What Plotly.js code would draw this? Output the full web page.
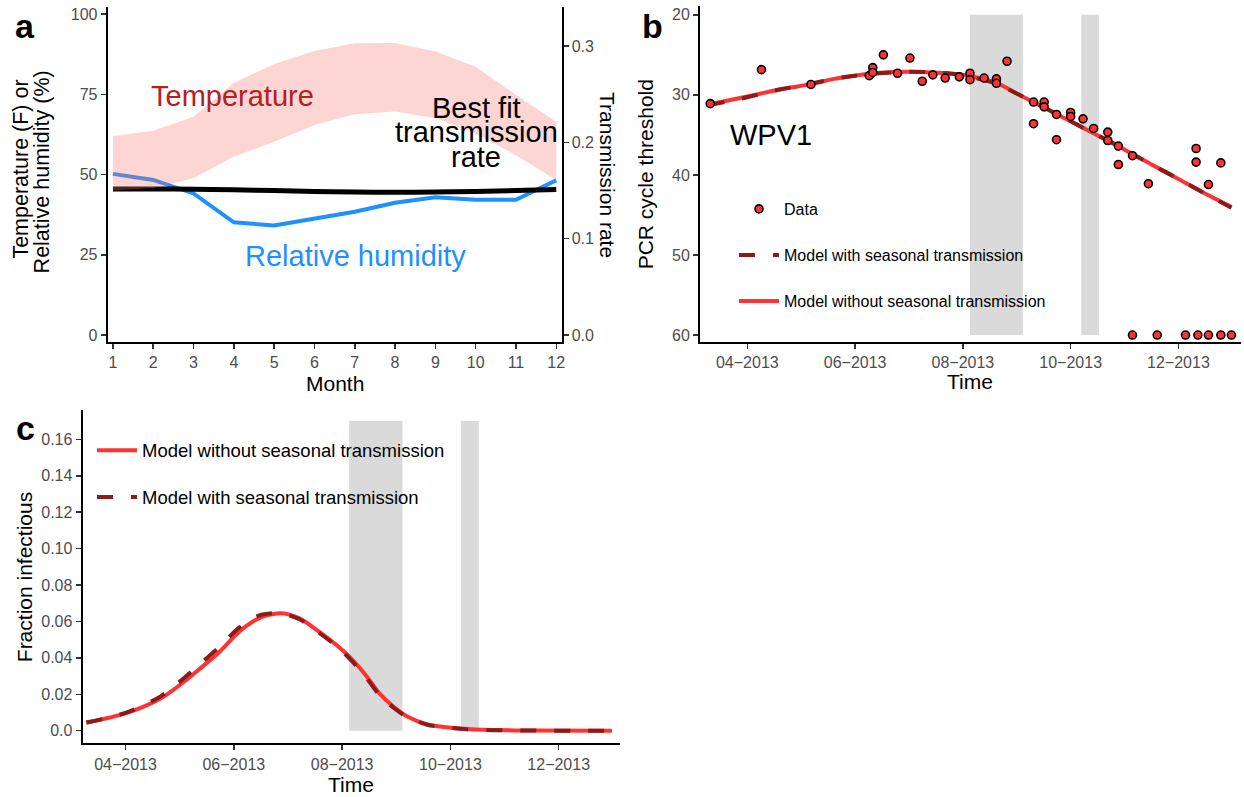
<!DOCTYPE html>
<html>
<head>
<meta charset="utf-8">
<script src="https://cdn.plot.ly/plotly-3.0.1.min.js"></script>
<style>html,body{margin:0;padding:0;background:#fff;}#chart{width:1244px;height:797px;}</style>
</head>
<body>
<div id="chart"></div>
<script>
// ---------- Panel a data ----------
const months = [1,2,3,4,5,6,7,8,9,10,11,12];
const tempUpper = [62, 63.6, 68, 78.6, 84.4, 88.5, 90.9, 91, 88.3, 83.6, 74.8, 66.4];
const tempLower = [45, 45.8, 48.8, 55.6, 60.2, 65.4, 68.8, 69.6, 67.5, 62.8, 56, 48.3];
const humidity = [50.2, 48.3, 44.1, 35.1, 34.1, 36.3, 38.4, 41.2, 42.9, 42.1, 42.1, 48.2];
const transmissionRate = [0.1515, 0.1516, 0.1514, 0.1508, 0.1500, 0.1491, 0.1484, 0.1482, 0.1484, 0.1491, 0.1500, 0.1510];
const leftTicks = [0, 25, 50, 75, 100];
const rightTicks = [0, 0.1, 0.2, 0.3];
const rightTickLabels = ['0.0', '0.1', '0.2', '0.3'];

// ---------- Panel b data ----------
const dataDates = ['2013-03-11','2013-04-09','2013-05-07','2013-06-09','2013-06-11','2013-06-11','2013-06-17','2013-06-25','2013-07-02','2013-07-09','2013-07-15','2013-07-22','2013-07-30','2013-08-05','2013-08-05','2013-08-13','2013-08-20','2013-08-20','2013-08-26','2013-09-10','2013-09-10','2013-09-16','2013-09-16','2013-09-23','2013-09-23','2013-10-01','2013-10-01','2013-10-08','2013-10-14','2013-10-22','2013-10-22','2013-10-28','2013-10-28','2013-11-05','2013-11-05','2013-11-14','2013-11-19','2013-12-05','2013-12-11','2013-12-11','2013-12-12','2013-12-18','2013-12-18','2013-12-25','2013-12-25','2013-12-31'];
const dataCt = [31.1,26.85,28.7,27.6,26.6,27.2,25.0,27.3,25.4,28.3,27.5,27.9,27.75,27.3,28.1,27.9,28.0,28.55,25.8,30.9,33.6,30.9,31.5,32.45,35.6,32.2,32.7,33.0,34.2,34.65,35.7,36.4,38.7,37.6,60,41.1,60,60,36.7,38.4,60,41.2,60,38.5,60,60];
const modelBDates = ['2013-03-10','2013-04-01','2013-04-20','2013-05-07','2013-05-20','2013-06-01','2013-06-15','2013-07-01','2013-07-15','2013-08-01','2013-08-10','2013-08-20','2013-09-01','2013-09-10','2013-09-23','2013-10-01','2013-10-14','2013-10-28','2013-11-05','2013-11-15','2013-12-01','2013-12-15','2013-12-31'];
const ctWithout = [31.2,30.2,29.3,28.66,28.0,27.6,27.25,27.1,27.2,27.5,27.9,28.5,29.9,30.9,32.4,33.3,34.8,36.4,37.4,38.6,40.5,42.2,44.0];
const ctWith = [31.3,30.3,29.3,28.6,28.0,27.6,27.3,27.1,27.2,27.5,28.0,28.6,29.9,30.9,32.4,33.3,34.8,36.4,37.4,38.6,40.5,42.2,44.1];
const ctTicks = [20, 30, 40, 50, 60];

// ---------- Panel c data ----------
const modelCDates = ['2013-03-10','2013-04-01','2013-04-21','2013-05-04','2013-05-12','2013-05-24','2013-06-04','2013-06-15','2013-06-27','2013-07-08','2013-07-19','2013-07-30','2013-08-07','2013-08-15','2013-08-22','2013-08-30','2013-09-07','2013-09-18','2013-09-26','2013-10-10','2013-10-25','2013-11-15','2013-12-31'];
const infWithout = [0.0045,0.0095,0.0178,0.0269,0.0333,0.0434,0.0544,0.0617,0.0645,0.0617,0.0544,0.0461,0.0388,0.0297,0.0205,0.0132,0.0077,0.0035,0.0022,0.0009,0.0004,0.0001,0.0];
const infWith = [0.0045,0.0098,0.0190,0.0290,0.0358,0.0462,0.0566,0.0632,0.0645,0.0612,0.0538,0.0455,0.0378,0.0286,0.0196,0.0126,0.0073,0.0033,0.0021,0.0008,0.0003,0.0001,0.0];
const infTicks = [0, 0.02, 0.04, 0.06, 0.08, 0.10, 0.12, 0.14, 0.16];
const infTickLabels = ['0.0','0.02','0.04','0.06','0.08','0.10','0.12','0.14','0.16'];

// ---------- shared ----------
const dateTicks = ['2013-04-01','2013-06-01','2013-08-01','2013-10-01','2013-12-01'];
const dateTickLabels = ['04\u22122013','06\u22122013','08\u22122013','10\u22122013','12\u22122013'];
const shadeStart = ['2013-08-05','2013-10-07'];
const shadeEnd = ['2013-09-04','2013-10-17'];

const FONT = 'Liberation Sans, Arial, Helvetica, sans-serif';
const W = 1244, H = 797;
const px = v => v / W;
const py = v => 1 - v / H;
const RED = '#FF3333';
const DARK = '#8B1A1A';

const axisStyle = {
  showgrid: false, zeroline: false, showline: true, linecolor: 'black', linewidth: 2,
  ticks: 'outside', ticklen: 5, tickwidth: 1.5, tickcolor: '#333333',
  tickfont: {family: FONT, size: 16, color: '#4D4D4D'}, fixedrange: true
};

const traces = [
  // panel a
  {x: months, y: humidity, xaxis: 'x', yaxis: 'y', type: 'scatter', mode: 'lines',
   line: {color: '#1E90FF', width: 4}, showlegend: false, hoverinfo: 'skip'},
  {x: months, y: transmissionRate, xaxis: 'x', yaxis: 'y2', type: 'scatter', mode: 'lines',
   line: {color: 'black', width: 5, shape: 'spline'}, showlegend: false, hoverinfo: 'skip'},
  {x: months, y: tempLower, xaxis: 'x', yaxis: 'y5', type: 'scatter', mode: 'lines',
   line: {width: 0, color: 'rgba(0,0,0,0)'}, showlegend: false, hoverinfo: 'skip'},
  {x: months, y: tempUpper, xaxis: 'x', yaxis: 'y5', type: 'scatter', mode: 'lines',
   line: {width: 0, color: 'rgba(0,0,0,0)'}, fill: 'tonexty', fillcolor: 'rgba(248,118,109,0.3)',
   showlegend: false, hoverinfo: 'skip'},
  // panel b
  {x: modelBDates, y: ctWithout, xaxis: 'x2', yaxis: 'y3', type: 'scatter', mode: 'lines',
   name: 'Model without seasonal transmission', legend: 'legend', legendgroup: 'b3', legendrank: 3,
   line: {color: RED, width: 4, shape: 'spline'}},
  {x: modelBDates, y: ctWith, xaxis: 'x2', yaxis: 'y3', type: 'scatter', mode: 'lines',
   name: 'Model with seasonal transmission', legend: 'legend', legendgroup: 'b2', legendrank: 2,
   line: {color: DARK, width: 4, shape: 'spline', dash: '16px,18px'}},
  {x: dataDates, y: dataCt, xaxis: 'x2', yaxis: 'y3', type: 'scatter', mode: 'markers',
   name: 'Data', legend: 'legend', legendgroup: 'b1', legendrank: 1,
   marker: {color: RED, size: 8, line: {color: 'black', width: 1.6}}},
  // panel c
  {x: modelCDates, y: infWithout, xaxis: 'x3', yaxis: 'y4', type: 'scatter', mode: 'lines',
   name: 'Model without seasonal transmission', legend: 'legend2', legendgroup: 'c1',
   line: {color: RED, width: 4, shape: 'spline', smoothing: 0.8}},
  {x: modelCDates, y: infWith, xaxis: 'x3', yaxis: 'y4', type: 'scatter', mode: 'lines',
   name: 'Model with seasonal transmission', legend: 'legend2', legendgroup: 'c2',
   line: {color: DARK, width: 4, shape: 'spline', smoothing: 0.8, dash: '16px,18px'}}
];

const shapes = [];
for (let i = 0; i < shadeStart.length; i++) {
  shapes.push({type: 'rect', xref: 'x2', yref: 'y3', x0: shadeStart[i], x1: shadeEnd[i], y0: 20, y1: 60,
    fillcolor: '#DADADA', line: {width: 0}, layer: 'below'});
  shapes.push({type: 'rect', xref: 'x3', yref: 'y4', x0: shadeStart[i], x1: shadeEnd[i], y0: 0, y1: 0.17,
    fillcolor: '#DADADA', line: {width: 0}, layer: 'below'});
}

function txt(text, xc, baseline, size, opts) {
  opts = opts || {};
  return Object.assign({
    text: text, xref: 'paper', yref: 'paper', x: px(xc), y: py(baseline - 0.33 * size),
    xanchor: 'center', yanchor: 'middle', showarrow: false,
    font: {family: FONT, size: size, color: opts.color || 'black'}
  }, opts.extra || {});
}
function vtxt(text, xc, yc, size, angle) {
  return {text: text, xref: 'paper', yref: 'paper', x: px(xc), y: py(yc), xanchor: 'center', yanchor: 'middle',
    showarrow: false, textangle: angle, font: {family: FONT, size: size, color: 'black'}};
}

const annotations = [
  txt('<b>a</b>', 25.3, 37.3, 34),
  txt('<b>b</b>', 652.2, 37.3, 34),
  txt('<b>c</b>', 25.2, 439.3, 34),
  txt('Temperature', 233, 105.8, 29, {color: '#B22222'}),
  txt('Best fit', 476, 117.5, 29),
  txt('transmission', 476, 142, 29),
  txt('rate', 476, 166.5, 29),
  txt('Relative humidity', 355, 265.8, 29, {color: '#1E90FF'}),
  txt('WPV1', 770.7, 145, 29),
  txt('Month', 334.5, 390, 21),
  txt('Time', 970.5, 388.3, 21),
  txt('Time', 351, 791.7, 21),
  vtxt('Temperature (F) or', 20.6, 169, 21.5, -90),
  vtxt('Relative humidity (%)', 42.4, 172, 21.5, -90),
  vtxt('Transmission rate', 608, 175, 21, 90),
  vtxt('PCR cycle threshold', 646.3, 174, 21, -90),
  vtxt('Fraction infectious', 24.2, 577, 21, -90)
];

const layout = {
  width: W, height: H, margin: {l: 0, r: 0, t: 0, b: 0},
  paper_bgcolor: 'white', plot_bgcolor: 'rgba(0,0,0,0)',
  font: {family: FONT, size: 16, color: 'black'},
  hovermode: false, showlegend: true,
  xaxis: Object.assign({}, axisStyle, {domain: [px(107.7), px(561.5)], range: [0.87, 12.13],
    tickvals: months, anchor: 'y'}),
  yaxis: Object.assign({}, axisStyle, {domain: [py(341.5), py(7)], range: [-2.02, 102.18],
    tickvals: leftTicks, anchor: 'x'}),
  yaxis2: Object.assign({}, axisStyle, {overlaying: 'y', side: 'right', anchor: 'x',
    range: [-0.00673, 0.3406], tickvals: rightTicks, ticktext: rightTickLabels}),
  yaxis5: {overlaying: 'y', anchor: 'x', range: [-2.02, 102.18], visible: false, fixedrange: true},
  xaxis2: Object.assign({}, axisStyle, {domain: [px(700), px(1241)], type: 'date',
    range: ['2013-03-05 05:00', '2014-01-05 10:00'], tickvals: dateTicks, ticktext: dateTickLabels, anchor: 'y3'}),
  yaxis3: Object.assign({}, axisStyle, {domain: [py(341.5), py(6)], range: [60.81, 18.9],
    tickvals: ctTicks, anchor: 'x2'}),
  xaxis3: Object.assign({}, axisStyle, {domain: [px(82.6), px(619.5)], type: 'date',
    range: ['2013-03-07 20:00', '2014-01-04 06:00'], tickvals: dateTicks, ticktext: dateTickLabels, anchor: 'y4'}),
  yaxis4: Object.assign({}, axisStyle, {domain: [py(743.3), py(410)], range: [-0.0069, 0.1761],
    tickvals: infTicks, ticktext: infTickLabels, anchor: 'x3'}),
  legend: {x: px(734), y: py(192), xanchor: 'left', yanchor: 'top', bgcolor: 'rgba(0,0,0,0)',
    font: {family: FONT, size: 16, color: 'black'}, traceorder: 'grouped', tracegroupgap: 22.3, itemwidth: 40},
  legend2: {x: px(92), y: py(431.7), xanchor: 'left', yanchor: 'top', bgcolor: 'rgba(0,0,0,0)',
    font: {family: FONT, size: 18.5, color: 'black'}, traceorder: 'grouped', tracegroupgap: 19.6, itemwidth: 40},
  shapes: shapes,
  annotations: annotations
};

Plotly.newPlot('chart', traces, layout, {displayModeBar: false, staticPlot: true});
</script>
</body>
</html>
